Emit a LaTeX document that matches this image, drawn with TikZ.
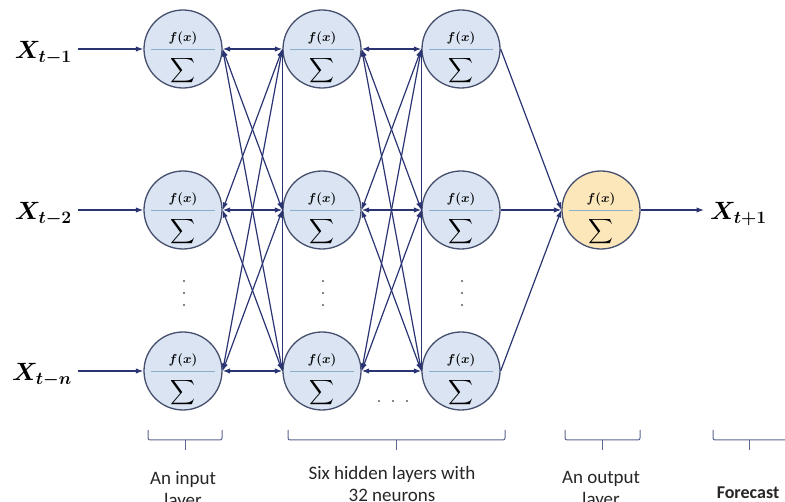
\RequirePackage{fix-cm}
\documentclass[tikz,border=0pt]{standalone}
\usepackage{amsmath}
\usepackage{fontspec}
\setmainfont{Carlito}
\usetikzlibrary{arrows.meta}

\definecolor{navyline}{HTML}{2B3473}
\definecolor{cellblue}{HTML}{DAE4F3}
\definecolor{cellgold}{HTML}{FBE7BA}
\definecolor{rim}{HTML}{46506E}
\definecolor{split}{HTML}{8BAECD}
\definecolor{bracket}{HTML}{5A6590}
\definecolor{dotgray}{HTML}{555A66}

\tikzset{
  neuron/.style={circle, draw=rim, line width=1.3pt, fill=cellblue,
    minimum size=78pt, inner sep=0pt,
    path picture={
      \draw[split, line width=0.9pt]
        ([xshift=7pt]path picture bounding box.west) --
        ([xshift=-7pt]path picture bounding box.east);
      \node[draw=none] at ([yshift=11pt]path picture bounding box.center)
        {\fontsize{13}{15}\selectfont$\boldsymbol{f(x)}$};
      \node[draw=none] at ([yshift=-22pt]path picture bounding box.center)
        {\fontsize{19}{22}\selectfont$\displaystyle\sum$};
    }},
  outneuron/.style={neuron, fill=cellgold},
  link/.style={draw=navyline, line width=1.2pt},
  xlab/.style={inner sep=6pt, font=\fontsize{25}{28}\selectfont},
  caption/.style={align=center, text=black!85,
    font=\fontsize{19}{22}\selectfont},
  brace/.style={draw=bracket, line width=1pt, rounded corners=2pt}
}

\begin{document}
\begin{tikzpicture}[x=1pt, y=-1pt, >={Latex[length=7.5pt,width=5.5pt]}]
  \useasboundingbox (0,0) rectangle (785,502);

  % layers
  \node[neuron] (i1) at (183,49) {};
  \node[neuron] (i2) at (183,210) {};
  \node[neuron] (i3) at (183,371) {};
  \node[neuron] (h1) at (322,49) {};
  \node[neuron] (h2) at (322,210) {};
  \node[neuron] (h3) at (322,371) {};
  \node[neuron] (g1) at (461,49) {};
  \node[neuron] (g2) at (461,210) {};
  \node[neuron] (g3) at (461,371) {};
  \node[outneuron] (out) at (601,210) {};

  % inputs and forecast
  \node[xlab, anchor=east] (x1) at (78,53) {$\boldsymbol{X_{t-1}}$};
  \node[xlab, anchor=east] (x2) at (78,214) {$\boldsymbol{X_{t-2}}$};
  \node[xlab, anchor=east] (x3) at (78,375) {$\boldsymbol{X_{t-n}}$};
  \node[xlab, anchor=west] (y) at (704,214) {$\boldsymbol{X_{t+1}}$};

  \draw[link, ->] (x1.east |- i1.west) -- (i1.west);
  \draw[link, ->] (x2.east |- i2.west) -- (i2.west);
  \draw[link, ->] (x3.east |- i3.west) -- (i3.west);
  \draw[link, ->] (out.east) -- (y.west |- out.east);

  % full links between layers
  \foreach \a in {1,2,3}
    \foreach \b in {1,2,3} {
      \draw[link, <->] (i\a.east) -- (h\b.west);
      \draw[link, <->] (h\a.east) -- (g\b.west);
    }
  \draw[link] (h1.west) -- (h3.west);
  \draw[link] (g1.west) -- (g3.west);
  \foreach \a in {1,2,3}
    \draw[link, ->] (g\a.east) -- (out.west);

  % dots
  \foreach \x in {184,323,462}
    \foreach \y in {281,293,305}
      \fill[dotgray] (\x,\y) circle (1.2pt);
  \foreach \x in {379,393,407}
    \fill[dotgray] (\x,401) circle (1.2pt);

  % brackets and captions
  \draw[brace] (148,430) -- (148,440) -- (222,440) -- (222,430);
  \draw[brace] (185,440) -- (185,450);
  \draw[brace] (288,430) -- (288,440) -- (505,440) -- (505,430);
  \draw[brace] (396,440) -- (396,450);
  \draw[brace] (565,430) -- (565,440) -- (640,440) -- (640,430);
  \draw[brace] (602,440) -- (602,450);
  \draw[brace] (713,430) -- (713,440) -- (795,440);
  \draw[brace] (749,440) -- (749,450);

  \node[caption] (capin) at (183,490) {An input\\layer};
  \node[caption] (caphid) at (392,484) {Six hidden layers with\\32 neurons};
  \node[caption] (capout) at (601,490) {An output\\layer};
  \node[caption, font=\fontsize{18}{22}\selectfont\bfseries] (capfc) at (748,493) {Forecast};
\end{tikzpicture}
\end{document}
